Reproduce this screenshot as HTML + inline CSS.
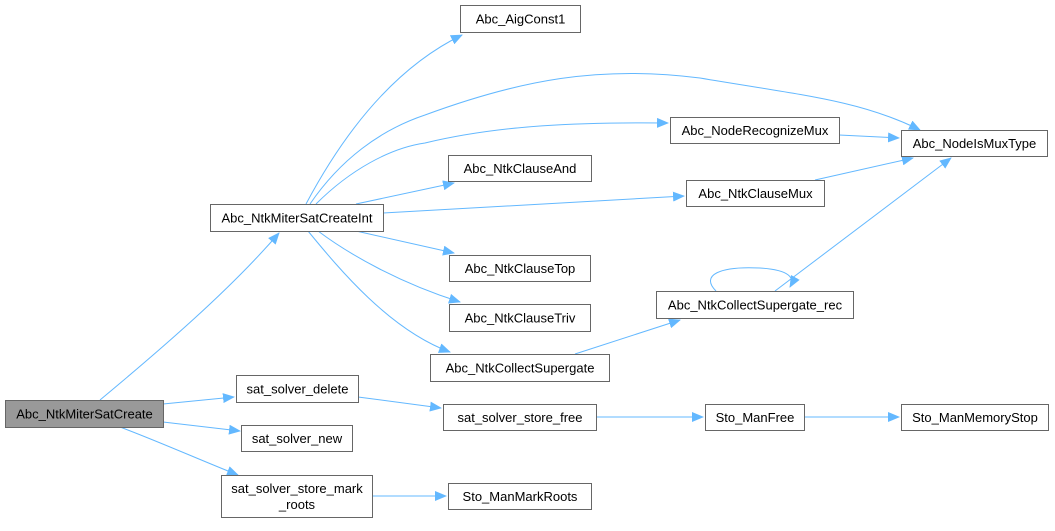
<!DOCTYPE html>
<html><head><meta charset="utf-8"><style>
body{margin:0;background:#fff;}
svg{display:block;font-family:"Liberation Sans",Arial,sans-serif;}
</style></head><body>
<svg width="1055" height="531" viewBox="0 0 1055 531" xmlns="http://www.w3.org/2000/svg">
<defs><marker id="a" markerWidth="12" markerHeight="10" refX="11" refY="5" orient="auto" markerUnits="userSpaceOnUse"><path d="M0,0 L12,5 L0,10 z" fill="#63b8ff"/></marker></defs>
<g fill="none" stroke="#63b8ff" stroke-width="1" marker-end="url(#a)">
<path d="M100,400 C160,350 230,290 279,233"/>
<path d="M306,204 C340,140 390,70 462,35"/>
<path d="M310,204 C340,160 380,130 425,115 C520,80 600,65 700,78 C800,95 860,100 920,130"/>
<path d="M316,204 C350,170 390,148 425,143 C500,125 580,122 668,123"/>
<path d="M356,204 L454,183"/>
<path d="M383,213 L684,196"/>
<path d="M356,231 L454,253"/>
<path d="M318,231 C350,255 400,283 460,302"/>
<path d="M308,231 C340,270 390,330 450,352"/>
<path d="M163,404 L234,397"/>
<path d="M163,422 L240,431"/>
<path d="M120,427 C160,442 200,460 238,475"/>
<path d="M358,397 L441,408"/>
<path d="M839,135 L899,138"/>
<path d="M815,180 L913,158"/>
<path d="M575,354 L680,320"/>
<path d="M775,291 L951,158"/>
<path d="M716,291 C700,275 720,266 760,268 C790,270 795,278 790,287"/>
<path d="M596,417 L703,417"/>
<path d="M804,417 L899,417"/>
<path d="M372,496 L446,496"/>
</g>
<g stroke="#666" stroke-width="1">
<rect x="5.5" y="400.5" width="158" height="27" fill="#999"/>
<g fill="#fff">
<rect x="210.5" y="204.5" width="173" height="27"/>
<rect x="460.5" y="5.5" width="120" height="27"/>
<rect x="448.5" y="155.5" width="143" height="26"/>
<rect x="449.5" y="255.5" width="141" height="26"/>
<rect x="449.5" y="304.5" width="141" height="27"/>
<rect x="430.5" y="354.5" width="179" height="27"/>
<rect x="236.5" y="375.5" width="122" height="27"/>
<rect x="241.5" y="425.5" width="111" height="26"/>
<rect x="221.5" y="475.5" width="151" height="42"/>
<rect x="443.5" y="404.5" width="153" height="26"/>
<rect x="448.5" y="483.5" width="143" height="26"/>
<rect x="670.5" y="117.5" width="169" height="26"/>
<rect x="901.5" y="130.5" width="146" height="26"/>
<rect x="686.5" y="180.5" width="138" height="26"/>
<rect x="656.5" y="291.5" width="197" height="27"/>
<rect x="705.5" y="404.5" width="99" height="26"/>
<rect x="901.5" y="404.5" width="147" height="26"/>
</g></g>
<g font-size="13" fill="#000" text-anchor="middle">
<text x="84.5" y="418.5">Abc_NtkMiterSatCreate</text>
<text x="297" y="222.5">Abc_NtkMiterSatCreateInt</text>
<text x="520.5" y="23.5">Abc_AigConst1</text>
<text x="520" y="173">Abc_NtkClauseAnd</text>
<text x="520" y="273">Abc_NtkClauseTop</text>
<text x="520" y="322.5">Abc_NtkClauseTriv</text>
<text x="520" y="372.5">Abc_NtkCollectSupergate</text>
<text x="297.5" y="393.5">sat_solver_delete</text>
<text x="297" y="443">sat_solver_new</text>
<text x="297" y="493">sat_solver_store_mark</text>
<text x="297" y="509">_roots</text>
<text x="520" y="422">sat_solver_store_free</text>
<text x="520" y="501">Sto_ManMarkRoots</text>
<text x="755" y="135">Abc_NodeRecognizeMux</text>
<text x="974.5" y="148">Abc_NodeIsMuxType</text>
<text x="755.5" y="198">Abc_NtkClauseMux</text>
<text x="755" y="309.5">Abc_NtkCollectSupergate_rec</text>
<text x="755" y="422">Sto_ManFree</text>
<text x="975" y="422">Sto_ManMemoryStop</text>
</g>
</svg>
</body></html>
